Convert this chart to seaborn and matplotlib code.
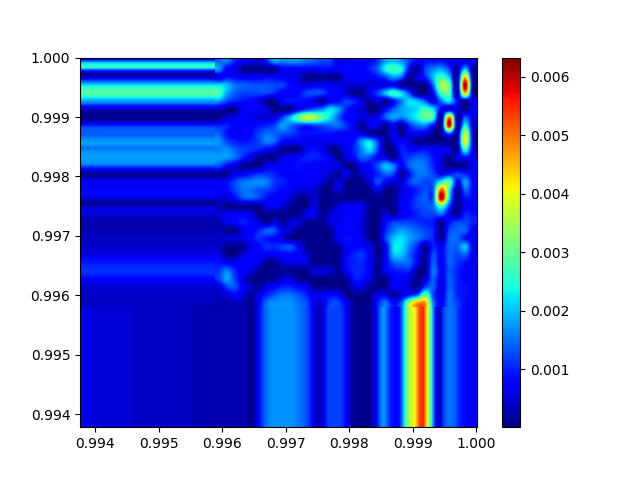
import numpy as np
import matplotlib
matplotlib.use("Agg")
import matplotlib.pyplot as plt
import seaborn as sns

unit = 1e-4
x_range = (0.99376, 1.00001)
y_range = (0.99378, 1.00000)
vmin, vmax = 0.00001, 0.00633
x_ticks = [0.994, 0.995, 0.996, 0.997, 0.998, 0.999, 1.000]
y_ticks = [0.994, 0.995, 0.996, 0.997, 0.998, 0.999, 1.000]
cbar_ticks = [0.001, 0.002, 0.003, 0.004, 0.005, 0.006]

# left strip: one value per row, top to bottom
left_strip = [6, 22, 27, 7, 1, 9, 18, 26, 29, 27, 20, 15, 6, 2, 1, 1, 7, 13, 14, 14,
              17, 18, 15, 17, 18, 18, 17, 10, 3, 1, 6, 7, 7, 9, 8, 3, 1, 6, 6, 4,
              3, 3, 3, 3, 4, 4, 4, 5, 5, 7, 9, 10, 11, 11, 9, 7, 5, 5, 4, 4, 4, 4]

# bottom strip: one value per column, left to right
bottom_strip = [6, 6, 6, 5, 5, 5, 5, 5, 5, 5, 5, 5, 5, 4, 4, 4, 4, 4, 4, 4,
                4, 4, 4, 4, 4, 4, 4, 4, 3, 3, 3, 3, 3, 3, 3, 3, 3, 3, 3, 3,
                3, 3, 1, 1, 5, 10, 14, 16, 17, 17, 17, 17, 17, 17, 16, 15, 14, 12, 8, 4,
                2, 8, 12, 12, 12, 12, 10, 5, 2, 1, 1, 1, 1, 2, 6, 14, 18, 13, 9, 8,
                9, 20, 33, 38, 42, 53, 55, 40, 25, 8, 2, 12, 15, 15, 14, 10, 9, 8, 8, 8]

# upper-right field: 31 rows by 33 columns, top to bottom
upper_right = [
    [14, 16, 10, 7, 6, 5, 10, 18, 16, 17, 17, 15, 14, 12, 12, 7, 7, 7, 7, 8, 11, 18, 20, 17, 12, 8, 9, 9, 9, 7, 6, 6, 7],
    [17, 7, 6, 1, 1, 1, 1, 1, 7, 7, 7, 7, 7, 8, 8, 7, 8, 8, 8, 10, 14, 24, 27, 24, 7, 1, 12, 16, 18, 12, 1, 20, 1],
    [5, 9, 8, 7, 7, 7, 8, 8, 7, 7, 5, 1, 1, 1, 1, 1, 7, 7, 8, 7, 9, 12, 18, 14, 1, 6, 10, 20, 27, 20, 1, 45, 1],
    [22, 20, 15, 14, 13, 13, 13, 12, 12, 8, 6, 6, 7, 7, 7, 6, 5, 5, 5, 5, 5, 6, 7, 1, 1, 1, 1, 15, 35, 30, 1, 62, 1],
    [28, 18, 14, 12, 12, 12, 12, 10, 7, 7, 8, 12, 13, 12, 8, 7, 5, 1, 1, 7, 12, 20, 27, 22, 12, 1, 1, 8, 27, 28, 1, 45, 1],
    [17, 12, 10, 9, 8, 6, 1, 1, 8, 9, 9, 8, 5, 1, 7, 8, 12, 10, 6, 1, 5, 1, 8, 16, 22, 20, 14, 6, 15, 22, 8, 1, 7],
    [4, 1, 1, 7, 8, 7, 6, 1, 1, 1, 7, 11, 14, 17, 22, 18, 10, 6, 5, 1, 1, 8, 14, 18, 20, 22, 27, 22, 7, 5, 5, 1, 7],
    [1, 5, 6, 7, 6, 5, 5, 6, 12, 20, 30, 38, 35, 28, 22, 14, 8, 7, 6, 5, 7, 14, 18, 16, 20, 24, 30, 26, 1, 50, 1, 14, 6],
    [10, 10, 7, 7, 8, 9, 10, 12, 18, 15, 12, 10, 12, 13, 14, 15, 11, 7, 1, 7, 6, 1, 7, 1, 11, 15, 16, 8, 1, 60, 1, 24, 5],
    [14, 9, 7, 7, 8, 12, 15, 14, 13, 12, 10, 9, 9, 9, 9, 8, 8, 7, 6, 1, 1, 1, 7, 1, 6, 7, 6, 1, 1, 14, 1, 38, 5],
    [17, 12, 10, 9, 10, 12, 16, 14, 8, 7, 7, 6, 6, 6, 6, 7, 7, 9, 18, 22, 12, 1, 5, 8, 5, 1, 1, 1, 1, 1, 1, 40, 5],
    [16, 17, 14, 12, 11, 10, 7, 5, 1, 1, 1, 7, 9, 7, 1, 1, 7, 10, 16, 22, 12, 1, 1, 10, 8, 8, 9, 7, 7, 6, 1, 26, 6],
    [18, 17, 15, 10, 6, 1, 1, 1, 6, 7, 8, 10, 10, 9, 7, 1, 5, 8, 14, 12, 8, 7, 1, 9, 12, 14, 13, 9, 5, 1, 6, 8, 7],
    [13, 8, 5, 1, 1, 1, 7, 7, 8, 8, 9, 8, 7, 7, 6, 6, 1, 1, 7, 8, 13, 20, 16, 7, 14, 16, 15, 10, 5, 1, 1, 1, 7],
    [2, 1, 7, 7, 9, 11, 11, 10, 8, 8, 8, 7, 7, 6, 5, 1, 7, 1, 5, 7, 10, 14, 12, 1, 9, 15, 15, 12, 7, 9, 12, 10, 7],
    [6, 8, 12, 15, 16, 17, 16, 11, 10, 8, 7, 7, 7, 5, 1, 6, 1, 1, 1, 5, 13, 7, 5, 5, 12, 14, 12, 14, 25, 30, 7, 18, 8],
    [8, 8, 12, 15, 15, 13, 12, 10, 8, 7, 5, 5, 5, 1, 1, 5, 1, 1, 1, 1, 6, 1, 1, 5, 7, 10, 13, 14, 52, 25, 1, 14, 8],
    [5, 5, 8, 13, 14, 12, 9, 7, 7, 5, 1, 1, 5, 1, 1, 1, 1, 1, 1, 1, 1, 1, 1, 7, 8, 12, 14, 14, 62, 22, 1, 9, 8],
    [3, 1, 1, 1, 1, 1, 6, 7, 5, 1, 1, 1, 6, 1, 1, 5, 7, 7, 6, 1, 1, 1, 1, 7, 9, 12, 13, 15, 28, 12, 1, 6, 7],
    [5, 7, 7, 7, 6, 1, 1, 1, 1, 1, 1, 6, 7, 1, 5, 6, 7, 7, 6, 1, 1, 5, 1, 7, 8, 10, 12, 12, 15, 6, 1, 10, 9],
    [3, 6, 7, 10, 8, 5, 1, 6, 1, 5, 5, 1, 1, 1, 5, 6, 7, 7, 5, 1, 1, 8, 12, 12, 12, 11, 10, 9, 1, 9, 12, 12, 10],
    [3, 1, 1, 6, 7, 10, 14, 13, 6, 5, 1, 1, 1, 1, 1, 7, 7, 7, 5, 1, 1, 10, 15, 18, 16, 14, 12, 10, 1, 12, 14, 14, 7],
    [4, 5, 5, 6, 8, 11, 9, 8, 5, 1, 1, 1, 1, 1, 1, 7, 9, 8, 6, 1, 1, 12, 20, 22, 18, 15, 12, 10, 1, 14, 14, 9, 7],
    [4, 1, 1, 1, 6, 8, 11, 10, 12, 13, 8, 1, 1, 1, 1, 1, 7, 8, 8, 6, 1, 7, 22, 22, 16, 10, 1, 10, 7, 14, 14, 20, 7],
    [6, 1, 1, 5, 7, 8, 7, 7, 8, 8, 7, 5, 1, 1, 1, 1, 7, 10, 11, 7, 1, 7, 20, 20, 14, 8, 1, 13, 7, 14, 12, 14, 7],
    [9, 7, 7, 8, 8, 6, 1, 1, 5, 6, 6, 5, 1, 1, 1, 1, 8, 10, 10, 7, 1, 7, 14, 15, 14, 7, 1, 14, 6, 14, 11, 9, 7],
    [11, 16, 10, 7, 6, 1, 1, 1, 1, 1, 1, 1, 5, 5, 5, 1, 7, 10, 10, 7, 1, 7, 9, 10, 10, 1, 1, 16, 7, 13, 10, 8, 7],
    [12, 18, 12, 6, 1, 1, 1, 1, 5, 5, 1, 1, 1, 1, 1, 1, 1, 9, 9, 6, 1, 1, 7, 7, 5, 1, 5, 14, 6, 14, 10, 8, 7],
    [5, 12, 13, 7, 5, 1, 6, 8, 10, 10, 8, 7, 1, 1, 1, 1, 1, 5, 6, 1, 1, 1, 7, 7, 5, 1, 12, 14, 5, 14, 10, 9, 8],
    [4, 5, 8, 6, 1, 6, 10, 13, 15, 15, 13, 10, 6, 7, 8, 8, 1, 1, 1, 1, 6, 7, 1, 5, 9, 14, 30, 12, 5, 15, 10, 9, 8],
    [3, 3, 3, 3, 1, 7, 15, 17, 17, 17, 15, 13, 6, 5, 12, 12, 7, 1, 1, 1, 10, 15, 8, 14, 35, 47, 47, 16, 7, 15, 12, 8, 8],
]

left = np.array(left_strip, dtype=float)
bottom = np.array(bottom_strip, dtype=float)
field = np.array(upper_right, dtype=float)

n_rows, n_cols = 92, 100
split_r, split_c = 62, 34
Z = np.zeros((n_rows, n_cols))
Z[:split_r, :split_c] = left[:, None]
Z[:split_r, split_c:] = np.repeat(np.repeat(field, 2, axis=0), 2, axis=1)
Z[split_r:, :] = bottom[None, :]
Z = Z * unit

fig, ax = plt.subplots(figsize=(6.4, 4.8), dpi=100)
ax = sns.heatmap(Z, cmap="jet", vmin=vmin, vmax=vmax, ax=ax, cbar=True,
                 xticklabels=False, yticklabels=False)
mesh = ax.collections[0]
ax.imshow(left[:, None] * unit, cmap="jet", norm=mesh.norm, aspect="auto",
          interpolation="bilinear", extent=(0, split_c, split_r, 0), zorder=3)
ax.imshow(bottom[None, :] * unit, cmap="jet", norm=mesh.norm, aspect="auto",
          interpolation="bilinear", extent=(0, n_cols, n_rows, split_r), zorder=3)
ax.imshow(field * unit, cmap="jet", norm=mesh.norm, aspect="auto",
          interpolation="catrom", extent=(split_c, n_cols, split_r, 0), zorder=3)
ax.set_xlim(0, n_cols)
ax.set_ylim(n_rows, 0)

for s in ax.spines.values():
    s.set_visible(True)
    s.set_linewidth(0.8)
    s.set_zorder(5)

xpos = [(v - x_range[0]) / (x_range[1] - x_range[0]) * n_cols for v in x_ticks]
ypos = [(y_range[1] - v) / (y_range[1] - y_range[0]) * n_rows for v in y_ticks]
ax.set_xticks(xpos)
ax.set_xticklabels([f"{v:.3f}" for v in x_ticks], rotation=0)
ax.set_yticks(ypos)
ax.set_yticklabels([f"{v:.3f}" for v in y_ticks], rotation=0)
ax.tick_params(left=True, bottom=True, length=3.5, width=0.8)

cbar = mesh.colorbar
cbar.set_ticks(cbar_ticks)
cbar.set_ticklabels([f"{v:.3f}" for v in cbar_ticks])
cbar.outline.set_visible(True)
cbar.outline.set_linewidth(0.8)
cbar.ax.tick_params(length=3.5, width=0.8)

fig.savefig("out.png", dpi=100)
